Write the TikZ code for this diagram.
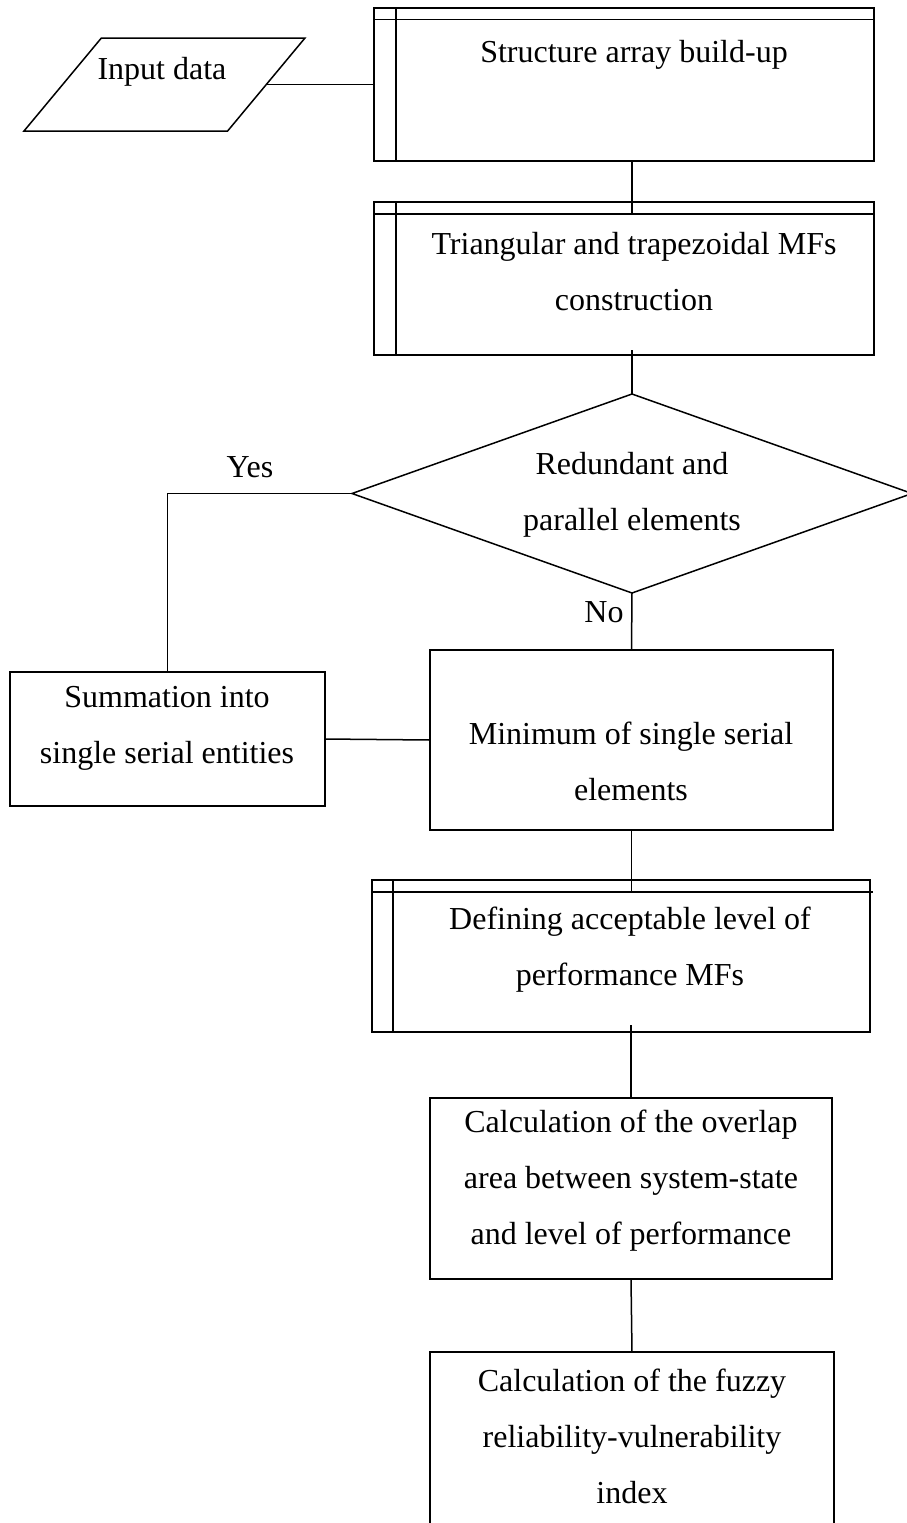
\documentclass[tikz,border=0pt]{standalone}
\usepackage{fontspec}
\setmainfont{Liberation Serif}
\usetikzlibrary{shapes.geometric}
\begin{document}
\begin{tikzpicture}[x=1pt,y=-1pt,
  line width=1.5pt,
  box/.style={draw, rectangle, inner sep=0pt, outer sep=0pt},
  txt/.style={font=\fontsize{32}{56}\selectfont, align=center, inner sep=0pt}]
\useasboundingbox (0,0) rectangle (906,1523);

% shapes
\node[draw, trapezium, trapezium left angle=58.5, trapezium right angle=121.5,
      trapezium stretches=true, minimum width=281pt, minimum height=93pt,
      inner sep=2pt, outer sep=0pt] (inp) at (164.5,84.5) {};
\node[box, minimum width=500pt, minimum height=153pt] (s1) at (624,84.5) {};
\node[box, minimum width=500pt, minimum height=153pt] (s2) at (624,278.5) {};
\node[draw, diamond, minimum width=560pt, minimum height=199pt,
      inner sep=2pt, outer sep=0pt] (d) at (632,493.5) {};
\node[box, minimum width=315pt, minimum height=134pt] (sum) at (167.5,739) {};
\node[box, minimum width=403pt, minimum height=180pt] (min) at (631.5,740) {};
\node[box, minimum width=498pt, minimum height=152pt] (def) at (621,956) {};
\node[box, minimum width=402pt, minimum height=181pt] (c1) at (631,1188.5) {};
\node[box, minimum width=404pt, minimum height=218pt] (c2) at (632,1461) {};

% predefined-process inner lines
\draw ([yshift=-11.5pt]s1.north west) -- ([yshift=-11.5pt]s1.north east);
\draw ([xshift=22pt]s1.north west) -- ([xshift=22pt]s1.south west);
\draw ([yshift=-12pt]s2.north west) -- ([yshift=-12pt]s2.north east);
\draw ([xshift=22pt]s2.north west) -- ([xshift=22pt]s2.south west);
\draw ([yshift=-12pt]def.north west) -- ([yshift=-12pt,xshift=3pt]def.north east);
\draw ([xshift=21pt]def.north west) -- ([xshift=21pt]def.south west);

% texts
\node[txt] (t-inp) at (162,72) {Input data};
\node[txt] (t-s1) at (634,55) {Structure array build-up};
\node[txt] (t-s2) at (634,271.5) {Triangular and trapezoidal MFs\\construction};
\node[txt] (t-d) at (632,495) {Redundant and\\parallel elements};
\node[txt] (t-sum) at (167,728.5) {Summation into\\single serial entities};
\node[txt] (t-min) at (631,761.5) {Minimum of single serial\\elements};
\node[txt] (t-def) at (630,950) {Defining acceptable level of\\performance MFs};
\node[txt] (t-c1) at (631,1181) {Calculation of the overlap\\area between system-state\\and level of performance};
\node[txt] (t-c2) at (632,1436) {Calculation of the fuzzy\\reliability-vulnerability\\index};
\node[txt] (yes) at (250,467) {Yes};
\node[txt] (no) at (604,612) {No};

% connectors
\draw (inp.east) -- (s1.west);
\draw (s1.south -| d.north) -- ++(0,53);
\draw (d.north) -- ++(0,-44);
\draw (d.west) -| (sum.north);
\draw (d.south) -- (min.north);
\draw (sum.east) -- (min.west);
\draw (min.south) -- ++(0,63);
\draw (c1.north) -- ++(0,-73);
\draw (c1.south) -- (c2.north);
\end{tikzpicture}
\end{document}
